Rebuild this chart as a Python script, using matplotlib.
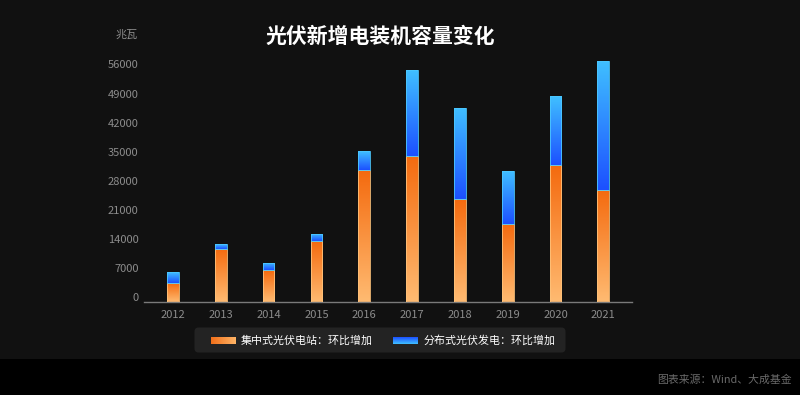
import numpy as np
import matplotlib
matplotlib.use('Agg')
import matplotlib.pyplot as plt
from matplotlib.patches import FancyBboxPatch, Rectangle
from matplotlib.colors import LinearSegmentedColormap
from matplotlib.transforms import ScaledTranslation

plt.rcParams['font.family'] = ['Noto Sans CJK SC', 'DejaVu Sans']

# data (兆瓦)
years = ['2012', '2013', '2014', '2015', '2016', '2017', '2018', '2019', '2020', '2021']
central = [4570, 12830, 7620, 14590, 31750, 35270, 24690, 18680, 32950, 27010]
distributed = [2570, 1120, 1760, 1690, 4560, 20610, 22130, 12910, 16590, 31110]
yticks = [0, 7000, 14000, 21000, 28000, 35000, 42000, 49000, 56000]

title = '光伏新增电装机容量变化'
unit = '兆瓦'
legend_labels = ['集中式光伏电站：环比增加', '分布式光伏发电：环比增加']
source = '图表来源：Wind、大成基金'

BG = '#111111'
W, H = 800, 395
orange_cm = LinearSegmentedColormap.from_list('o', ['#ffbb72', '#f46a0e'])
blue_cm = LinearSegmentedColormap.from_list('b', ['#1c50ff', '#40c0ff'])

fig = plt.figure(figsize=(W / 100, H / 100), dpi=100, facecolor=BG)

# black strip at the bottom
fig.patches.append(Rectangle((0, 0), 1, 36 / H, transform=fig.transFigure,
                             facecolor='#000000', edgecolor='none', zorder=0))

ax = fig.add_axes([144 / W, (H - 302) / H, 488 / W, 250 / H])
ax.set_facecolor(BG)

x = np.arange(len(years))
bw = 0.245


def grad_bars(xs, heights, bottoms, cmap, edge):
    bars = ax.bar(xs, heights, bw, bottom=bottoms, color='none',
                  edgecolor=edge, linewidth=0.6, zorder=3)
    grad = np.linspace(0, 1, 256).reshape(-1, 1)
    for b in bars:
        x0, y0 = b.get_x(), b.get_y()
        im = ax.imshow(grad, cmap=cmap, origin='lower', aspect='auto',
                       extent=[x0, x0 + b.get_width(), y0, y0 + b.get_height()],
                       zorder=2, interpolation='bilinear')
        im.set_clip_path(b)
    return bars


grad_bars(x, central, 0, orange_cm, '#ffc27a')
grad_bars(x, distributed, central, blue_cm, '#4cc8ff')

ax.set_xlim(-0.607, 9.6)
ax.set_ylim(0, 60200)
ax.set_xticks(x)
ax.set_xticklabels(years)
ax.set_yticks(yticks)
ax.set_yticklabels([str(v) for v in yticks])
ax.tick_params(axis='both', length=0, colors='#8c8c8c', labelsize=8)
ax.tick_params(axis='y', pad=3.8)
ax.tick_params(axis='x', pad=6)
for lab in ax.get_yticklabels():
    lab.set_transform(lab.get_transform() + ScaledTranslation(0, 5 / 100, fig.dpi_scale_trans))

for s in ['top', 'right', 'left']:
    ax.spines[s].set_visible(False)
ax.spines['bottom'].set_color('#7a7a7a')
ax.spines['bottom'].set_linewidth(1)

fig.text(380 / W, 1 - 36 / H, title, color='white', fontsize=15,
         fontweight='bold', ha='center', va='center')
fig.text(138 / W, 1 - 35 / H, unit, color='#8c8c8c', fontsize=8,
         ha='right', va='center')

# legend
lax = fig.add_axes([0, 0, 1, 1], facecolor='none', zorder=5)
lax.set_xlim(0, W)
lax.set_ylim(H, 0)
lax.axis('off')
lax.add_patch(FancyBboxPatch((196, 329), 368, 22,
                             boxstyle='round,pad=1.5,rounding_size=4',
                             facecolor='#232323', edgecolor='none', zorder=1))
hgrad = np.linspace(0, 1, 64).reshape(1, -1)
vgrad = np.linspace(0, 1, 64).reshape(-1, 1)
lax.imshow(hgrad, cmap=LinearSegmentedColormap.from_list('lo', ['#f2701a', '#ffb466']),
           extent=[211, 236, 344, 337], aspect='auto', zorder=3)
lax.imshow(vgrad, cmap=blue_cm, extent=[393, 418, 344, 337], aspect='auto', zorder=3)
lax.set_xlim(0, W)
lax.set_ylim(H, 0)
lax.text(241, 340.5, legend_labels[0], color='white', fontsize=7.9, va='center', ha='left')
lax.text(424, 340.5, legend_labels[1], color='white', fontsize=7.9, va='center', ha='left')

fig.text(792 / W, 1 - 380 / H, source, color='#6a6a6a', fontsize=7.8,
         ha='right', va='center')

fig.savefig('out.png', dpi=100, facecolor=BG)
